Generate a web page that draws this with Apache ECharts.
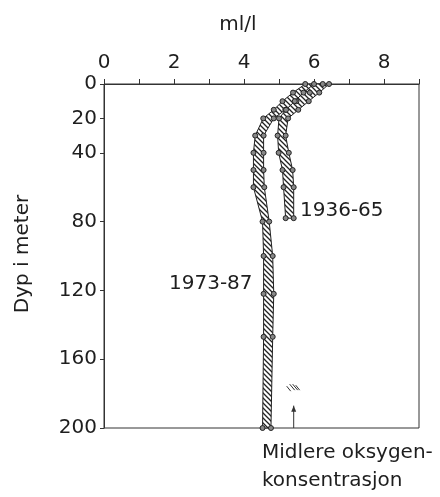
<!DOCTYPE html>
<html><head><meta charset="utf-8">
<script src="https://cdn.jsdelivr.net/npm/echarts@6/dist/echarts.min.js"></script>
<style>html,body{margin:0;padding:0;background:#fff}#c{width:440px;height:497px}</style>
</head><body><div id="c"></div>
<script>
// Depth (m) and oxygen range (ml/l), 1973-87
const depth7387 = [0, 5, 10, 15, 20, 30, 40, 50, 60, 80, 100, 122, 147, 200];
const min7387   = [5.75, 5.4, 5.1, 4.85, 4.55, 4.32, 4.27, 4.27, 4.27, 4.53, 4.56, 4.56, 4.56, 4.53];
const max7387   = [6.25, 5.88, 5.5, 5.18, 4.85, 4.56, 4.56, 4.56, 4.58, 4.72, 4.82, 4.85, 4.82, 4.77];
// 1936-65
const depth3665 = [0, 5, 10, 15, 20, 30, 40, 50, 60, 78];
const min3665   = [6.0, 5.7, 5.45, 5.2, 5.0, 4.96, 4.99, 5.1, 5.13, 5.19];
const max3665   = [6.43, 6.15, 5.85, 5.55, 5.26, 5.19, 5.28, 5.39, 5.42, 5.42];
// Axis labels
const xLabels = [0, 2, 4, 6, 8];
const yLabels = [0, 20, 40, 80, 120, 160, 200];
// mean-concentration marker
const meanMarkX = 5.42;

const FONT = '"DejaVu Sans", sans-serif';
const TXT = '#1e1e1e';

function makePattern() {
  const s = 5;
  const c = document.createElement('canvas');
  c.width = s; c.height = s;
  const g = c.getContext('2d');
  g.fillStyle = '#fff'; g.fillRect(0, 0, s, s);
  g.strokeStyle = '#222'; g.lineWidth = 1.3;
  g.beginPath();
  g.moveTo(-1, -1); g.lineTo(s + 1, s + 1);
  g.moveTo(-1, s - 1); g.lineTo(1, s + 1);
  g.moveTo(s - 1, -1); g.lineTo(s + 1, 1);
  g.stroke();
  return c;
}
const pat = makePattern();

function band(depth, mn, mx) {
  return {
    type: 'custom', coordinateSystem: 'cartesian2d', data: [[mn[0], depth[0]]], clip: false, z: 2,
    renderItem: function (params, api) {
      const pts = [];
      for (let i = 0; i < depth.length; i++) pts.push(api.coord([mn[i], depth[i]]));
      for (let i = depth.length - 1; i >= 0; i--) pts.push(api.coord([mx[i], depth[i]]));
      return { type: 'polygon', shape: { points: pts },
        style: { fill: { image: pat, repeat: 'repeat' }, stroke: '#222', lineWidth: 1 } };
    }
  };
}
function dots(depth, mn, mx) {
  const d = [];
  for (let i = 0; i < depth.length; i++) { d.push([mn[i], depth[i]]); d.push([mx[i], depth[i]]); }
  return { type: 'scatter', data: d, symbol: 'circle', symbolSize: 5, z: 3,
    itemStyle: { color: '#888', borderColor: '#222', borderWidth: 1, opacity: 1 } };
}

const chart = echarts.init(document.getElementById('c'), null, { renderer: 'canvas' });
chart.setOption({
  animation: false,
  backgroundColor: '#fff',
  grid: { left: 104, right: 21, top: 84, bottom: 69, show: true, borderColor: '#333', borderWidth: 1 },
  xAxis: {
    type: 'value', position: 'top', min: 0, max: 9, interval: 1,
    axisLine: { show: true, lineStyle: { color: '#333', width: 1 } },
    axisTick: { show: true, inside: false, length: 5, lineStyle: { color: '#333' } },
    axisLabel: { margin: 11, fontFamily: FONT, fontSize: 20, color: TXT,
      formatter: v => xLabels.indexOf(v) >= 0 ? String(v) : '' },
    splitLine: { show: false }
  },
  yAxis: {
    type: 'value', inverse: true, min: 0, max: 200, interval: 20,
    axisLine: { show: true, lineStyle: { color: '#333', width: 1 } },
    axisTick: { show: true, inside: false, length: 4, customValues: yLabels, lineStyle: { color: '#333' } },
    axisLabel: { margin: 7, fontFamily: FONT, fontSize: 20, color: TXT, customValues: yLabels,
      formatter: v => yLabels.indexOf(v) >= 0 ? String(v) : '' },
    splitLine: { show: false }
  },
  series: [
    band(depth7387, min7387, max7387),
    band(depth3665, min3665, max3665),
    dots(depth7387, min7387, max7387),
    dots(depth3665, min3665, max3665)
  ]
});

const pBase = chart.convertToPixel({ gridIndex: 0 }, [meanMarkX, 200]);
const pTip = chart.convertToPixel({ gridIndex: 0 }, [meanMarkX, 187]);
const hx = pBase[0], hy = chart.convertToPixel({ gridIndex: 0 }, [meanMarkX, 178])[1];

chart.setOption({
  graphic: [
    { type: 'text', x: 238, y: 25, style: { text: 'ml/l', font: '20px ' + FONT, fill: TXT, align: 'center', verticalAlign: 'middle' } },
    { type: 'text', x: 23, y: 254, rotation: Math.PI / 2, style: { text: 'Dyp i meter', font: '20px ' + FONT, fill: TXT, align: 'center', verticalAlign: 'middle' } },
    { type: 'text', x: 300, y: 211, z: 10, style: { text: '1936-65', font: '20px ' + FONT, fill: TXT, align: 'left', verticalAlign: 'middle' } },
    { type: 'text', x: 169, y: 284, z: 10, style: { text: '1973-87', font: '20px ' + FONT, fill: TXT, align: 'left', verticalAlign: 'middle' } },
    { type: 'text', x: 262, y: 453, style: { text: 'Midlere oksygen-', font: '20px ' + FONT, fill: TXT, align: 'left', verticalAlign: 'middle' } },
    { type: 'text', x: 262, y: 481, style: { text: 'konsentrasjon', font: '20px ' + FONT, fill: TXT, align: 'left', verticalAlign: 'middle' } },
    { type: 'line', shape: { x1: pBase[0], y1: pBase[1], x2: pTip[0], y2: pTip[1] }, style: { stroke: '#333', lineWidth: 1 } },
    { type: 'polygon', shape: { points: [[pTip[0] - 2.5, pTip[1] + 6], [pTip[0] + 2.5, pTip[1] + 6], [pTip[0], pTip[1]]] }, style: { fill: '#333' } },
    { type: 'line', shape: { x1: hx - 7, y1: hy - 4, x2: hx - 3, y2: hy + 1 }, style: { stroke: '#333', lineWidth: 1 } },
    { type: 'line', shape: { x1: hx - 4, y1: hy - 6, x2: hx + 1, y2: hy }, style: { stroke: '#333', lineWidth: 1 } },
    { type: 'line', shape: { x1: hx - 1, y1: hy - 6, x2: hx + 4, y2: hy }, style: { stroke: '#333', lineWidth: 1 } },
    { type: 'line', shape: { x1: hx + 2, y1: hy - 5, x2: hx + 6, y2: hy }, style: { stroke: '#333', lineWidth: 1 } }
  ]
});
</script></body></html>
